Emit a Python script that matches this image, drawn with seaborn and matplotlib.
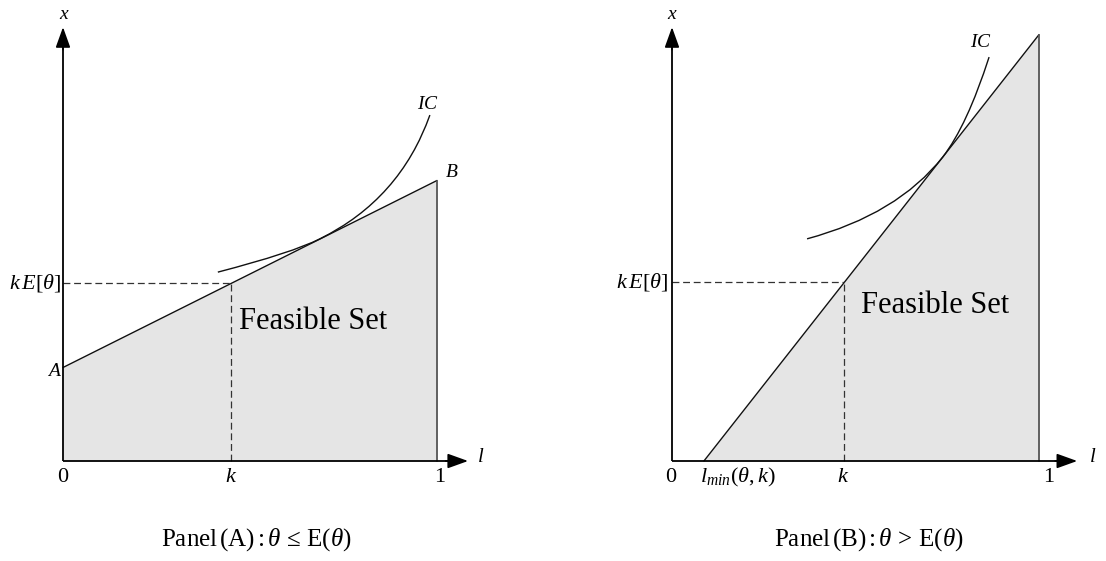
import matplotlib
matplotlib.use("Agg")
import matplotlib.pyplot as plt
import seaborn as sns
import pandas as pd
from matplotlib.path import Path
from matplotlib.patches import PathPatch

sns.set_theme(style="white")
plt.rcParams["font.family"] = ["Liberation Serif", "DejaVu Serif"]
plt.rcParams["mathtext.fontset"] = "custom"
plt.rcParams["mathtext.rm"] = "Liberation Serif"
plt.rcParams["mathtext.it"] = "Liberation Serif:italic"
plt.rcParams["mathtext.bf"] = "Liberation Serif:bold"
plt.rcParams["text.color"] = "black"

# ---- Panel A: theta <= E(theta) ----
a_l = [0.0, 1.0]          # budget line, l values
a_x = [0.25, 0.75]        # budget line, x values (A and B)
a_k = 0.45
# indifference curve: quadratic Bezier control points (start, ctrl, tangency, ctrl, end)
a_ic = [(0.414, 0.505), (0.614, 0.557), (0.687, 0.594), (0.901, 0.700), (0.981, 0.925)]

# ---- Panel B: theta > E(theta) ----
b_l = [0.087, 1.0]        # budget line from l_min to 1
b_x = [0.0, 1.14]
b_k = 0.47
b_ic = [(0.368, 0.594), (0.614, 0.659), (0.738, 0.813), (0.804, 0.897), (0.864, 1.080)]

tick_labels = ["0", "$k$", "1"]
titles = [r"Panel$\,$(A)$\,$:$\,\theta\,\leq\,$E$(\theta)$",
          r"Panel$\,$(B)$\,$:$\,\theta\,>\,$E$(\theta)$"]

W, H = 1106, 561
fig = plt.figure(figsize=(W / 100, H / 100), dpi=100)

ax_a = fig.add_axes([0, 0, 0.5, 1])
ax_b = fig.add_axes([0.5, 0, 0.5, 1])
ax_a.set_xlim(-63 / 374, 490 / 374)
ax_a.set_ylim(-100 / 374, 461 / 374)
ax_b.set_xlim(-119 / 367, 434 / 367)
ax_b.set_ylim(-100 / 374, 461 / 374)

FILL = "#e5e5e5"
LINE = "#111111"


def line_at(ls, xs, l):
    return xs[0] + (xs[1] - xs[0]) * (l - ls[0]) / (ls[1] - ls[0])


def draw_axes(ax, xtip, ytip):
    ax.plot([0, xtip - 0.02], [0, 0], color="black", lw=1.3, solid_capstyle="butt")
    ax.plot([0, 0], [0, ytip - 0.02], color="black", lw=1.3, solid_capstyle="butt")
    style = "-|>,head_length=1.25,head_width=0.45"
    ax.annotate("", xy=(xtip, 0), xytext=(xtip - 0.06, 0),
                arrowprops=dict(arrowstyle=style, mutation_scale=10, lw=1.2,
                                color="black", shrinkA=0, shrinkB=0))
    ax.annotate("", xy=(0, ytip), xytext=(0, ytip - 0.06),
                arrowprops=dict(arrowstyle=style, mutation_scale=10, lw=1.2,
                                color="black", shrinkA=0, shrinkB=0))


def draw_ic(ax, pts):
    codes = [Path.MOVETO] + [Path.CURVE3] * (len(pts) - 1)
    ax.add_patch(PathPatch(Path(pts, codes), fill=False, lw=1.0, edgecolor=LINE))


def draw_panel(ax, ls, xs, k, ic, xtip, ytip):
    ax.fill_between(ls, xs, 0, color=FILL, lw=0)
    df = pd.DataFrame({"l": ls, "x": xs})
    sns.lineplot(data=df, x="l", y="x", ax=ax, color=LINE, lw=1.0)
    ax.plot([1, 1], [0, xs[1]], color="#555555", lw=1.3)
    ke = line_at(ls, xs, k)
    ax.plot([0, k], [ke, ke], color="#333333", lw=0.9, ls=(0, (5.5, 3)))
    ax.plot([k, k], [0, ke], color="#333333", lw=0.9, ls=(0, (5.5, 3)))
    draw_ic(ax, ic)
    draw_axes(ax, xtip, ytip)
    ax.set_axis_off()
    return ke


ke_a = draw_panel(ax_a, a_l, a_x, a_k, a_ic, 1.083, 1.160)
ke_b = draw_panel(ax_b, b_l, b_x, b_k, b_ic, 1.104, 1.160)

# Panel A labels
ax_a.text(0.005, 1.193, "$x$", fontsize=14, ha="center", va="center")
ax_a.text(1.118, 0.01, "$l$", fontsize=15, ha="center", va="center")
for pos, lab in zip([0.0, a_k, 1.008], tick_labels):
    ax_a.text(pos, -0.045, lab, fontsize=16, ha="center", va="center")
ax_a.text(-0.003, 0.238, "$A$", fontsize=14, ha="right", va="center")
ax_a.text(1.04, 0.772, "$B$", fontsize=14, ha="center", va="center")
ax_a.text(0.976, 0.952, "$IC$", fontsize=14, ha="center", va="center")
ax_a.text(-0.004, ke_a, r"$k\,E[\theta]$", fontsize=16, ha="right", va="center")
ax_a.text(0.470, 0.372, "Feasible Set", fontsize=22, ha="left", va="center")

# Panel B labels
ax_b.text(0.0, 1.193, "$x$", fontsize=14, ha="center", va="center")
ax_b.text(1.147, 0.01, "$l$", fontsize=15, ha="center", va="center")
ax_b.text(-0.003, -0.045, tick_labels[0], fontsize=16, ha="center", va="center")
ax_b.text(0.466, -0.045, tick_labels[1], fontsize=16, ha="center", va="center")
ax_b.text(1.025, -0.045, tick_labels[2], fontsize=16, ha="center", va="center")
ax_b.text(0.180, -0.045, r"$l_{min}(\theta,k)$", fontsize=16, ha="center", va="center")
ax_b.text(0.842, 1.118, "$IC$", fontsize=14, ha="center", va="center")
ax_b.text(-0.011, ke_b, r"$k\,E[\theta]$", fontsize=16, ha="right", va="center")
ax_b.text(0.515, 0.417, "Feasible Set", fontsize=22, ha="left", va="center")

fig.text(256 / W, 1 - 540 / H, titles[0], fontsize=18, ha="center", va="center")
fig.text(869 / W, 1 - 540 / H, titles[1], fontsize=18, ha="center", va="center")

fig.savefig("out.png", dpi=100, facecolor="white")
